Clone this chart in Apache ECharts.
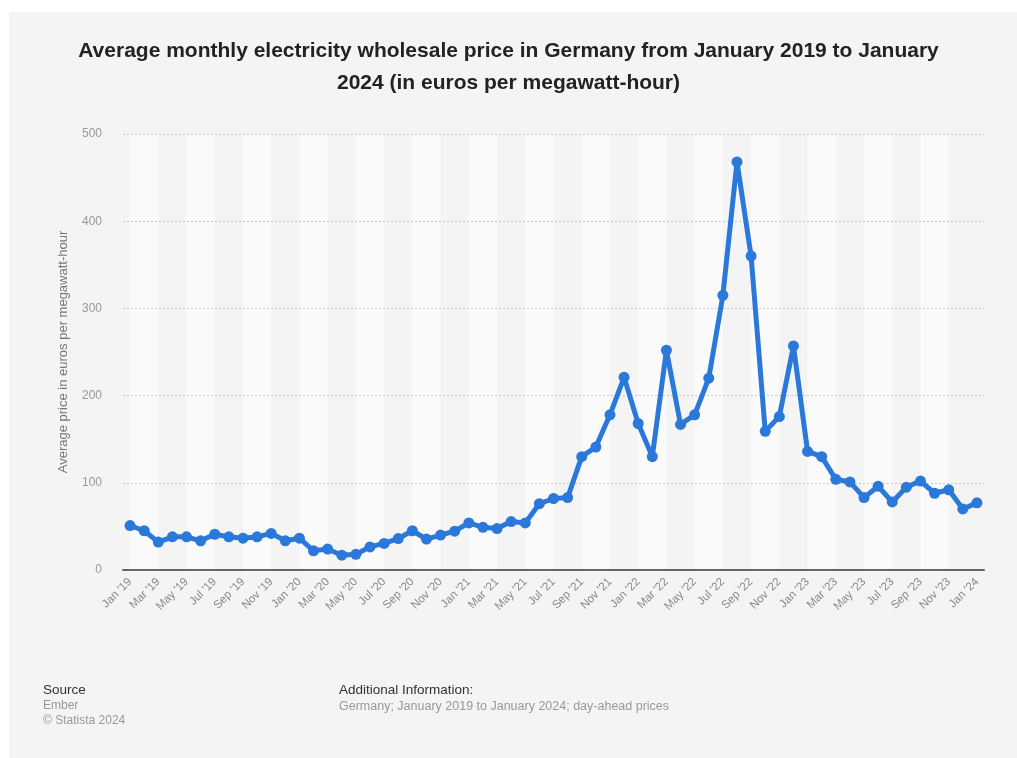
<!DOCTYPE html>
<html>
<head>
<meta charset="utf-8">
<script src="https://cdn.jsdelivr.net/npm/echarts@6/dist/echarts.min.js"></script>
<style>
html,body{margin:0;padding:0;background:#fff;}
#chart{width:1017px;height:758px;}
</style>
</head>
<body>
<div id="chart"></div>
<script>
var months = ['Jan','Feb','Mar','Apr','May','Jun','Jul','Aug','Sep','Oct','Nov','Dec'];
var years = ['19','20','21','22','23'];
var categories = [];
years.forEach(function(y){ months.forEach(function(m){ categories.push(m + " '" + y); }); });
categories.push("Jan '24");

var prices2019 = [51, 45, 32, 38, 38, 33.5, 41, 38, 36.5, 38, 42, 33.5];
var prices2020 = [36.5, 22, 24, 17, 18, 26.5, 30.5, 36, 45, 35.5, 40, 44.5];
var prices2021 = [54, 49, 47.5, 55.5, 54, 76, 82, 83, 130, 141, 178, 221];
var prices2022 = [168, 130, 252, 167, 178, 220, 315, 468, 360, 159, 176, 257];
var prices2023 = [136, 130, 104, 101, 83, 96, 78, 95, 102, 88, 92, 70];
var prices2024 = [77];
var values = [].concat(prices2019, prices2020, prices2021, prices2022, prices2023, prices2024);

var yTicks = [0, 100, 200, 300, 400, 500];

// alternating stripes between every second month
var stripes = [];
for (var i = 0; i + 2 < categories.length; i += 4) {
  stripes.push([{xAxis: categories[i]}, {xAxis: categories[i + 2]}]);
}

var FONT = '"Liberation Sans", Arial, sans-serif';
var chart = echarts.init(document.getElementById('chart'), null, {renderer: 'canvas'});
var option = {
  backgroundColor: '#ffffff',
  animation: false,
  graphic: [
    {type: 'rect', left: 9, top: 12, z: -10, shape: {width: 1008, height: 746}, style: {fill: '#f4f4f4'}},
    {type: 'text', left: 43, top: 683, style: {text: 'Source', font: '13.5px ' + FONT, fill: '#333'}},
    {type: 'text', left: 43, top: 700, style: {text: 'Ember', font: '12px ' + FONT, fill: '#999'}},
    {type: 'text', left: 43, top: 715, style: {text: '\u00a9 Statista 2024', font: '12px ' + FONT, fill: '#999'}},
    {type: 'text', left: 339, top: 683, style: {text: 'Additional Information:', font: '13.5px ' + FONT, fill: '#333'}},
    {type: 'text', left: 339, top: 700, style: {text: 'Germany; January 2019 to January 2024; day-ahead prices', font: '12.5px ' + FONT, fill: '#999'}}
  ],
  title: {
    text: 'Average monthly electricity wholesale price in Germany from January 2019 to January\n2024 (in euros per megawatt-hour)',
    left: 'center',
    top: 30,
    textStyle: {fontFamily: FONT, fontSize: 21, fontWeight: 'bold', color: '#222', lineHeight: 32}
  },
  grid: {left: 123, right: 33, top: 134, bottom: 188},
  xAxis: {
    type: 'category',
    data: categories,
    boundaryGap: true,
    z: 1.5,
    axisLine: {lineStyle: {color: '#666', width: 2}},
    axisTick: {show: false},
    axisLabel: {interval: 1, rotate: 45, color: '#888', fontSize: 11.5, fontFamily: FONT, margin: 10},
    splitLine: {show: false}
  },
  yAxis: {
    type: 'value',
    min: 0, max: 500, interval: 100,
    z: 1.4,
    name: 'Average price in euros per megawatt-hour',
    nameLocation: 'middle',
    nameGap: 53,
    nameTextStyle: {color: '#777', fontSize: 13, fontFamily: FONT},
    axisLine: {show: false},
    axisTick: {show: false},
    axisLabel: {color: '#999', fontSize: 12, margin: 21, fontFamily: FONT,
      formatter: function(v){ return yTicks.indexOf(v) >= 0 ? String(v) : ''; }},
    splitLine: {lineStyle: {color: '#c8c8c8', type: [2, 2], width: 1}}
  },
  series: [
    {
      type: 'line',
      z: 1,
      data: [],
      silent: true,
      markArea: {silent: true, itemStyle: {color: '#fafafa'}, data: stripes}
    },
    {
      type: 'line',
      z: 3,
      data: values,
      symbol: 'circle',
      symbolSize: 11,
      showAllSymbol: true,
      lineStyle: {color: '#2b78db', width: 5},
      itemStyle: {color: '#2b78db'}
    }
  ]
};
chart.setOption(option);
</script>
</body>
</html>
